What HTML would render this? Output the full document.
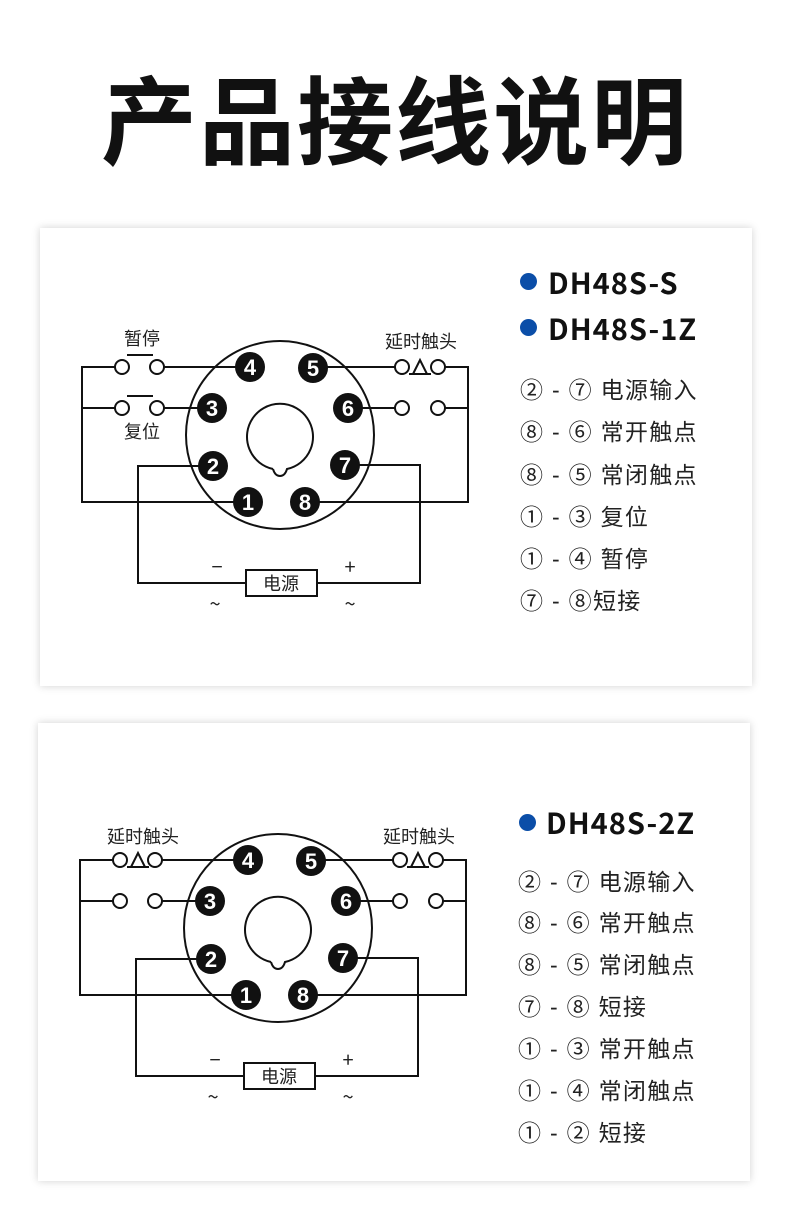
<!DOCTYPE html>
<html><head><meta charset="utf-8"><style>
body{margin:0;background:#fff;width:790px;height:1212px;position:relative;overflow:hidden;font-family:"Liberation Sans","Noto Sans CJK SC",sans-serif;}
.title{position:absolute;left:0;width:790px;top:56px;text-align:center;font-size:96px;font-weight:bold;letter-spacing:2px;line-height:120px;color:#111;font-family:"Noto Sans CJK SC",sans-serif;}
.card{position:absolute;background:#fff;box-shadow:0 0 8px rgba(0,0,0,0.18);}
.t{position:absolute;white-space:nowrap;color:#222;font-family:"Liberation Sans","Noto Sans CJK SC",sans-serif;}
.h{font-size:29px;font-weight:bold;color:#111;letter-spacing:1px;font-family:"Noto Sans CJK SC",sans-serif;}
.dot{position:absolute;width:17px;height:17px;border-radius:50%;background:#0b4ea8;}
.li{font-size:23px;line-height:26px;letter-spacing:1.3px;}
svg{position:absolute;left:0;top:0;}
</style></head><body>
<div class="title">产品接线说明</div>
<div class="card" style="left:40px;top:228px;width:712px;height:458px"></div>
<div class="card" style="left:38px;top:723px;width:712px;height:458px"></div>

<svg width="790" height="1212" viewBox="0 0 790 1212" font-family="Noto Sans CJK SC, sans-serif">
<!-- diagram 1 -->
<g stroke="#111" stroke-width="2" fill="none">
<circle cx="280" cy="435" r="94"/>
<path d="M273,469 A33,33 0 1 1 287,469 Q285,476 280,476 Q275,476 273,469"/>
<polyline points="250,367 164,367"/><polyline points="115,367 82,367 82,502 248,502"/>
<polyline points="212,408 164,408"/><polyline points="115,408 82,408"/>
<line x1="127" y1="355" x2="153" y2="355"/><line x1="127" y1="396" x2="153" y2="396"/>
<circle cx="122" cy="367" r="7"/><circle cx="157" cy="367" r="7"/>
<circle cx="122" cy="408" r="7"/><circle cx="157" cy="408" r="7"/>
<polyline points="313,367 395,367"/><polyline points="445,367 468,367 468,502 305,502"/>
<circle cx="402" cy="367" r="7"/><circle cx="438" cy="367" r="7"/>
<path d="M413,374 L420,360 L427,374 Z"/>
<line x1="409" y1="374" x2="431" y2="374"/>
<polyline points="348,408 395,408"/><polyline points="445,408 468,408"/>
<circle cx="402" cy="408" r="7"/><circle cx="438" cy="408" r="7"/>
<polyline points="213,466 138,466 138,583 246,583"/>
<polyline points="345,465 420,465 420,583 317,583"/>
<rect x="246" y="570" width="71" height="26"/>
</g>
<g fill="#111"><circle cx="250" cy="367" r="15"/><circle cx="313" cy="368" r="15"/><circle cx="212" cy="408" r="15"/><circle cx="348" cy="408" r="15"/><circle cx="213" cy="466" r="15"/><circle cx="345" cy="465" r="15"/><circle cx="248" cy="502" r="15"/><circle cx="305" cy="502" r="15"/></g>
<g font-weight="bold" font-size="22" fill="#fff" text-anchor="middle" font-family="Liberation Sans, sans-serif">
<text x="250" y="375">4</text><text x="313" y="376">5</text><text x="212" y="416">3</text><text x="348" y="416">6</text><text x="213" y="474">2</text><text x="345" y="473">7</text><text x="248" y="510">1</text><text x="305" y="510">8</text></g>
<g font-size="18" fill="#222" text-anchor="middle">
<text x="142" y="345">暂停</text><text x="142" y="438">复位</text><text x="421" y="348">延时触头</text>
<text x="281" y="590">电源</text><text x="217" y="574" font-size="20">−</text><text x="350" y="574" font-size="20">+</text>
<text x="215" y="611" font-size="20">~</text><text x="350" y="611" font-size="20">~</text></g>

<!-- diagram 2 -->
<g transform="translate(-2,493)">
<g stroke="#111" stroke-width="2" fill="none">
<circle cx="280" cy="435" r="94"/>
<path d="M273,469 A33,33 0 1 1 287,469 Q285,476 280,476 Q275,476 273,469"/>
<polyline points="250,367 164,367"/><polyline points="115,367 82,367 82,502 248,502"/>
<polyline points="212,408 164,408"/><polyline points="115,408 82,408"/>
<circle cx="122" cy="367" r="7"/><circle cx="157" cy="367" r="7"/>
<path d="M133,374 L140,360 L147,374 Z"/><line x1="129" y1="374" x2="151" y2="374"/>
<circle cx="122" cy="408" r="7"/><circle cx="157" cy="408" r="7"/>
<polyline points="313,367 395,367"/><polyline points="445,367 468,367 468,502 305,502"/>
<circle cx="402" cy="367" r="7"/><circle cx="438" cy="367" r="7"/>
<path d="M413,374 L420,360 L427,374 Z"/><line x1="409" y1="374" x2="431" y2="374"/>
<polyline points="348,408 395,408"/><polyline points="445,408 468,408"/>
<circle cx="402" cy="408" r="7"/><circle cx="438" cy="408" r="7"/>
<polyline points="213,466 138,466 138,583 246,583"/>
<polyline points="345,465 420,465 420,583 317,583"/>
<rect x="246" y="570" width="71" height="26"/>
</g>
<g fill="#111"><circle cx="250" cy="367" r="15"/><circle cx="313" cy="368" r="15"/><circle cx="212" cy="408" r="15"/><circle cx="348" cy="408" r="15"/><circle cx="213" cy="466" r="15"/><circle cx="345" cy="465" r="15"/><circle cx="248" cy="502" r="15"/><circle cx="305" cy="502" r="15"/></g>
<g font-weight="bold" font-size="22" fill="#fff" text-anchor="middle" font-family="Liberation Sans, sans-serif">
<text x="250" y="375">4</text><text x="313" y="376">5</text><text x="212" y="416">3</text><text x="348" y="416">6</text><text x="213" y="474">2</text><text x="345" y="473">7</text><text x="248" y="510">1</text><text x="305" y="510">8</text></g>
<g font-size="18" fill="#222" text-anchor="middle">
<text x="145" y="350">延时触头</text><text x="421" y="350">延时触头</text>
<text x="281" y="590">电源</text><text x="217" y="574" font-size="20">−</text><text x="350" y="574" font-size="20">+</text>
<text x="215" y="611" font-size="20">~</text><text x="350" y="611" font-size="20">~</text></g>
</g>
</svg>

<div class="dot" style="left:520px;top:273px"></div><div class="t h" style="left:548px;top:261px">DH48S-S</div>
<div class="dot" style="left:520px;top:319px"></div><div class="t h" style="left:548px;top:307px">DH48S-1Z</div>
<div class="t li" style="left:520px;top:377px">② - ⑦ 电源输入</div>
<div class="t li" style="left:520px;top:419px">⑧ - ⑥ 常开触点</div>
<div class="t li" style="left:520px;top:462px">⑧ - ⑤ 常闭触点</div>
<div class="t li" style="left:520px;top:504px">① - ③ 复位</div>
<div class="t li" style="left:520px;top:546px">① - ④ 暂停</div>
<div class="t li" style="left:520px;top:588px">⑦ - ⑧短接</div>

<div class="dot" style="left:519px;top:814px"></div><div class="t h" style="left:546px;top:801px">DH48S-2Z</div>
<div class="t li" style="left:518px;top:869px">② - ⑦ 电源输入</div>
<div class="t li" style="left:518px;top:910px">⑧ - ⑥ 常开触点</div>
<div class="t li" style="left:518px;top:952px">⑧ - ⑤ 常闭触点</div>
<div class="t li" style="left:518px;top:994px">⑦ - ⑧ 短接</div>
<div class="t li" style="left:518px;top:1036px">① - ③ 常开触点</div>
<div class="t li" style="left:518px;top:1078px">① - ④ 常闭触点</div>
<div class="t li" style="left:518px;top:1120px">① - ② 短接</div>
</body></html>
